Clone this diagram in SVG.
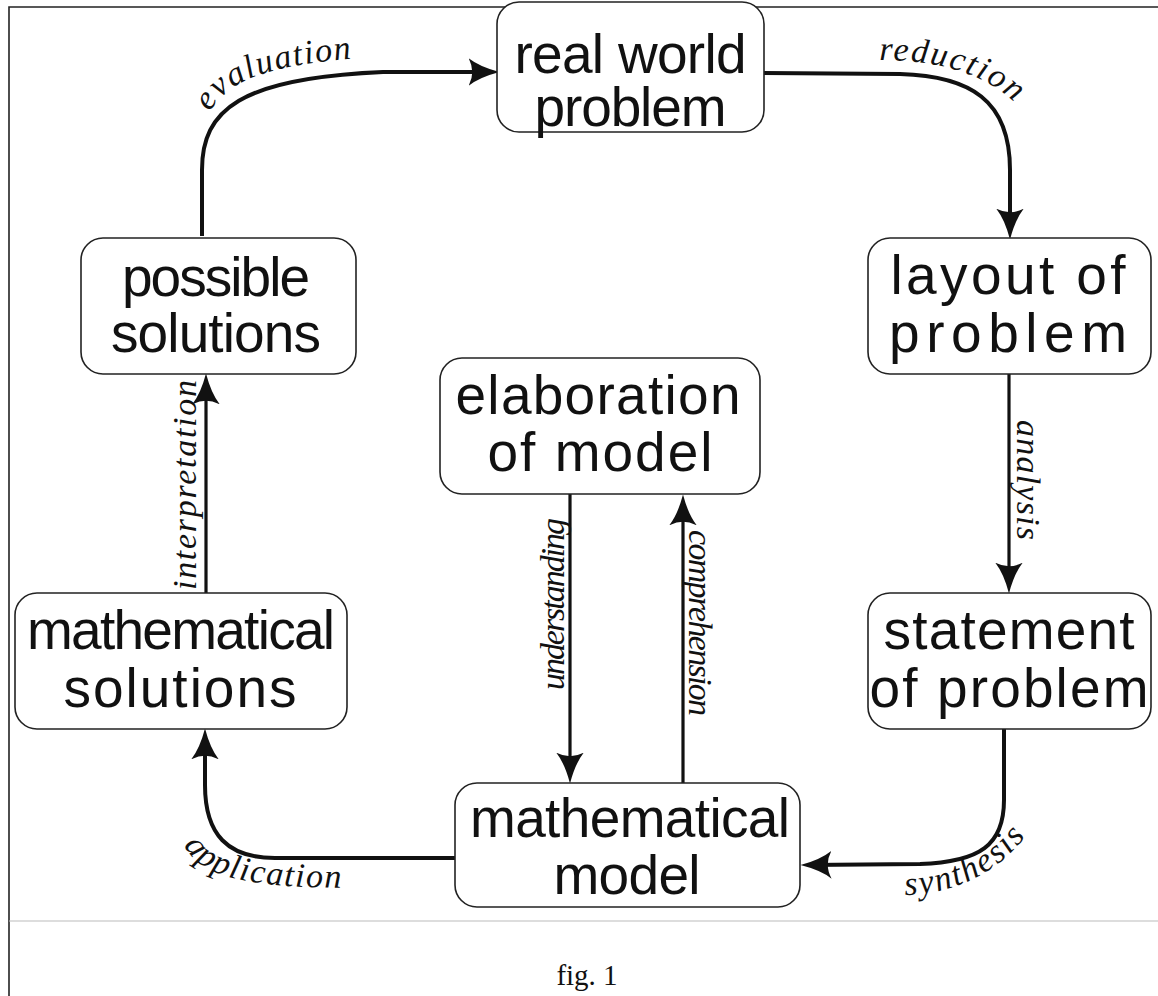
<svg xmlns="http://www.w3.org/2000/svg" width="1158" height="996" viewBox="0 0 1158 996">
<style>
.frame{fill:none;stroke:#222;stroke-width:1.6}
.box{fill:#fff;stroke:#222;stroke-width:1.6}
.nt{font-family:"Liberation Sans",Arial,sans-serif;font-size:55px;fill:#111;text-anchor:middle}
.con{fill:none;stroke:#111;stroke-width:4;stroke-linecap:butt}
.st{fill:none;stroke:#111;stroke-width:3.2}
.lb{font-family:"Liberation Serif","Times New Roman",serif;font-style:italic;font-size:34px;fill:#111}
.cap{font-family:"Liberation Serif","Times New Roman",serif;font-size:29px;fill:#111;text-anchor:middle}
</style>
<defs>
<marker id="ah" markerUnits="userSpaceOnUse" markerWidth="32" markerHeight="28" viewBox="0 0 30 26" refX="22" refY="13" orient="auto">
<path d="M0,0 Q10,8 29,13 Q10,18 0,26 Q7,13 0,0 Z" fill="#111"/>
</marker>
<path id="pEval" d="M210,112 C228,80 268,63 386,56"/>
<path id="pRed" d="M879,60 C948,60 995,78 1026,114"/>
<path id="pApp" d="M184,845 C201,877 244,888 360,888"/>
<path id="pSyn" d="M905,895 C958,893 1002,872 1033,826"/>
</defs>
<g id="frame">
<path class="frame" d="M9,996 L9,7 L1158,7"/>
<path d="M9,921 L1158,921" fill="none" stroke="#bbb" stroke-width="1.2"/>
</g>
<g id="connectors">
<path class="con" d="M202,236 L202,170 C202,110 240,78 383,72 L492,72" marker-end="url(#ah)"/>
<path class="con" d="M764,73 L900,74 C970,76 1010,100 1010,170 L1010,232" marker-end="url(#ah)"/>
<path class="st" d="M1009,374 L1009,586" marker-end="url(#ah)"/>
<path class="st" d="M570,494 L570,776" marker-end="url(#ah)"/>
<path class="st" d="M683,783 L683,502" marker-end="url(#ah)"/>
<path class="st" d="M206,593 L206,381" marker-end="url(#ah)"/>
<path class="con" d="M455,858 L275,858 C228,858 205,835 205,785 L205,736" marker-end="url(#ah)"/>
<path class="con" d="M1004,729 L1004,800 C1004,845 980,862 920,864 L808,865" marker-end="url(#ah)"/>
<text class="lb" letter-spacing="1.5"><textPath href="#pEval">evaluation</textPath></text>
<text class="lb" letter-spacing="2"><textPath href="#pRed">reduction</textPath></text>
<text class="lb" letter-spacing="1.5"><textPath href="#pApp">application</textPath></text>
<text class="lb" letter-spacing="2"><textPath href="#pSyn">synthesis</textPath></text>
<text class="lb" transform="translate(1017,420) rotate(90)" textLength="120" lengthAdjust="spacing">analysis</text>
<text class="lb" transform="translate(564,690) rotate(-90)" textLength="172" lengthAdjust="spacing">understanding</text>
<text class="lb" transform="translate(689,530) rotate(90)" textLength="186" lengthAdjust="spacing">comprehension</text>
<text class="lb" transform="translate(196,590) rotate(-90)" textLength="210" lengthAdjust="spacing">interpretation</text>
</g>
<g id="n-real">
<rect class="box" x="497" y="2" width="267" height="130" rx="22"/>
<text class="nt" x="630.5" y="73" textLength="232" lengthAdjust="spacing">real  world</text>
<text class="nt" x="630.5" y="126" textLength="192" lengthAdjust="spacing">problem</text>
</g>
<g id="n-layout">
<rect class="box" x="868" y="238" width="283" height="136" rx="22"/>
<text class="nt" x="1008" y="294" textLength="235" lengthAdjust="spacing">layout of</text>
<text class="nt" x="1008" y="352" textLength="238" lengthAdjust="spacing">problem</text>
</g>
<g id="n-possible">
<rect class="box" x="81" y="238" width="275" height="136" rx="22"/>
<text class="nt" x="216" y="296" textLength="188" lengthAdjust="spacing">possible</text>
<text class="nt" x="216" y="352" textLength="210" lengthAdjust="spacing">solutions</text>
</g>
<g id="n-elab">
<rect class="box" x="440" y="358" width="320" height="136" rx="22"/>
<text class="nt" x="598" y="414" textLength="285" lengthAdjust="spacing">elaboration</text>
<text class="nt" x="600" y="471" textLength="225" lengthAdjust="spacing">of model</text>
</g>
<g id="n-msol">
<rect class="box" x="15" y="593" width="332" height="136" rx="22"/>
<text class="nt" x="181" y="649" textLength="308" lengthAdjust="spacing">mathematical</text>
<text class="nt" x="180" y="707" textLength="233" lengthAdjust="spacing">solutions</text>
</g>
<g id="n-stat">
<rect class="box" x="868" y="593" width="283" height="136" rx="22"/>
<text class="nt" x="1009" y="649" textLength="251" lengthAdjust="spacing">statement</text>
<text class="nt" x="1009" y="707" textLength="279" lengthAdjust="spacing">of problem</text>
</g>
<g id="n-mmod">
<rect class="box" x="455" y="783" width="345" height="124" rx="22"/>
<text class="nt" x="630" y="837" textLength="320" lengthAdjust="spacing">mathematical</text>
<text class="nt" x="627" y="894" textLength="147" lengthAdjust="spacing">model</text>
</g>
<text class="cap" x="587" y="985">fig. 1</text>
</svg>
